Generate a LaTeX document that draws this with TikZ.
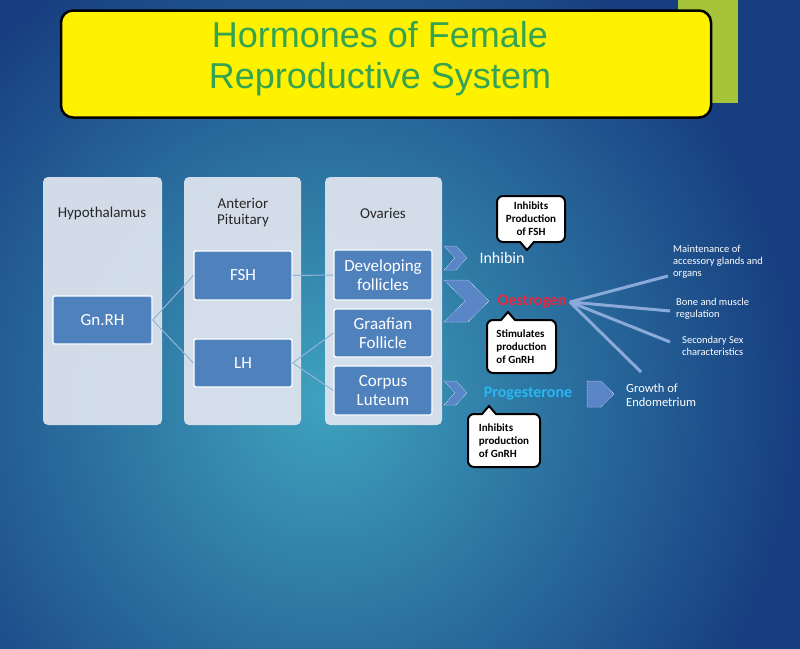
\documentclass[tikz,border=0pt]{standalone}
\usepackage{fontspec}
\setmainfont{Carlito}
\newfontfamily\arialf{Liberation Sans}
\definecolor{bgout}{HTML}{173E80}
\definecolor{bgin}{HTML}{3FA2BE}
\definecolor{panel}{HTML}{DCE3EE}
\definecolor{boxb}{HTML}{4F81BD}
\definecolor{titleg}{HTML}{34A352}
\definecolor{topg}{HTML}{A6C43A}
\definecolor{chev}{HTML}{5A86C8}
\definecolor{oes}{HTML}{E8283C}
\definecolor{prog}{HTML}{2AB6F0}
\tikzset{
 panelbox/.style={fill=panel,draw=none,rounded corners=5pt,opacity=0.95},
 inner/.style={fill=boxb,draw=white,line width=1.3pt,rounded corners=2pt,text=white,font=\fontsize{17}{19}\selectfont,align=center,inner sep=0pt},
 head/.style={font=\fontsize{15}{16}\selectfont,align=center,text=black!85},
 conn/.style={draw=boxb!60!white,line width=1pt},
 callout/.style={fill=white,draw=black,line width=2pt,rounded corners=6pt,font=\bfseries\fontsize{11}{13}\selectfont,align=left,inner sep=3pt},
 chevp/.style={fill=chev,draw=white,densely dotted,line width=0.5pt},
 wt/.style={text=white,font=\fontsize{11}{12}\selectfont,align=left,anchor=west,inner sep=0pt},
 ray/.style={draw=chev!70!white,line width=3pt}
}
\begin{document}
\begin{tikzpicture}[x=1pt,y=-1pt]
\useasboundingbox (0,0) rectangle (800,648);
\shade[inner color=bgin,outer color=bgout] (-150,-100) rectangle (800,900);
\fill[topg] (678,0) rectangle (738,103);
\node[fill=yellow,draw=black,line width=2.5pt,rounded corners=12pt,minimum width=650pt,minimum height=107pt] (title) at (386,64) {};
\node[text=titleg,font=\arialf\fontsize{36}{41}\selectfont,align=center] (tt) at (380,59) {Hormones of Female\\Reproductive System};
% panels
\fill[panelbox] (43,177) rectangle (162,425);
\fill[panelbox] (184,177) rectangle (301,425);
\fill[panelbox] (325,177) rectangle (442,425);
\node[head] (h1) at (102,213) {Hypothalamus};
\node[head] (h2) at (243,213) {Anterior\\Pituitary};
\node[head] (h3) at (383,213) {Ovaries};
\node[inner,minimum width=99pt,minimum height=48pt] (gn) at (102.5,320) {Gn.RH};
\node[inner,minimum width=98pt,minimum height=49pt] (fsh) at (243,275.5) {FSH};
\node[inner,minimum width=98pt,minimum height=48pt] (lh) at (243,363) {LH};
\node[inner,minimum width=98pt,minimum height=50pt] (dev) at (383,275) {Developing\\follicles};
\node[inner,minimum width=98pt,minimum height=48pt] (gra) at (383,333) {Graafian\\Follicle};
\node[inner,minimum width=98pt,minimum height=49pt] (cor) at (383,390.5) {Corpus\\Luteum};
\draw[conn] (gn.east) -- (fsh.west);
\draw[conn] (gn.east) -- (lh.west);
\draw[conn] (fsh.east) -- (dev.west);
\draw[conn] (lh.east) -- (gra.west);
\draw[conn] (lh.east) -- (cor.west);
% chevrons
\draw[chevp] (444,246) -- (456,246) -- (467,258) -- (456,270) -- (444,270) -- (455,258) -- cycle;
\draw[chevp] (444,280) -- (468,280) -- (489,301) -- (468,322) -- (444,322) -- (465,301) -- cycle;
\draw[chevp] (444,381) -- (456,381) -- (467,393) -- (456,405) -- (444,405) -- (455,393) -- cycle;
\draw[chevp] (587,381) -- (601,381) -- (614,394) -- (601,407) -- (587,407) -- cycle;
% hormones
\node[text=white,font=\fontsize{16}{17}\selectfont] (inh) at (502,258) {Inhibin};
\node[text=oes,font=\bfseries\fontsize{16}{17}\selectfont] (oe) at (532,302) {Oestrogen};
\node[text=prog,font=\bfseries\fontsize{16}{17}\selectfont] (pr) at (528,394) {Progesterone};
% rays
\coordinate (r1) at (668,276);
\coordinate (r2) at (670,311);
\coordinate (r3) at (670,342);
\coordinate (r4) at (641,372);
\draw[ray] (oe.east) -- (r1);
\draw[ray] (oe.east) -- (r2);
\draw[ray] (oe.east) -- (r3);
\draw[ray] (oe.east) -- (r4);
\node[wt,font=\fontsize{10.5}{12}\selectfont] (t1) at (673,262) {Maintenance of\\accessory glands and\\organs};
\node[wt,font=\fontsize{10.5}{12}\selectfont] (t2) at (676,309) {Bone and muscle\\regulation};
\node[wt,font=\fontsize{10.5}{12}\selectfont] (t3) at (682,346) {Secondary Sex\\characteristics};
\node[wt,font=\fontsize{12.5}{14}\selectfont] (t4) at (626,395) {Growth of\\Endometrium};
% callouts
\node[callout,align=center,minimum width=68pt,minimum height=46pt] (k1) at (531,219) {Inhibits\\Production\\of FSH};
\fill[white] (520,240) -- (527,250) -- (534,240) -- cycle;
\draw[black,line width=2pt] (520,242) -- (527,250) -- (534,242);
\node[callout,minimum width=69pt,minimum height=53pt] (k2) at (521.5,346.5) {Stimulates\\production\\of GnRH};
\fill[white] (501,322) -- (508,312) -- (515,322) -- cycle;
\draw[black,line width=2pt] (501,320) -- (508,312) -- (515,320);
\node[callout,minimum width=72pt,minimum height=53pt] (k3) at (504,440.5) {Inhibits\\production\\of GnRH};
\fill[white] (482,416) -- (489,406) -- (496,416) -- cycle;
\draw[black,line width=2pt] (482,414) -- (489,406) -- (496,414);
\end{tikzpicture}
\end{document}
